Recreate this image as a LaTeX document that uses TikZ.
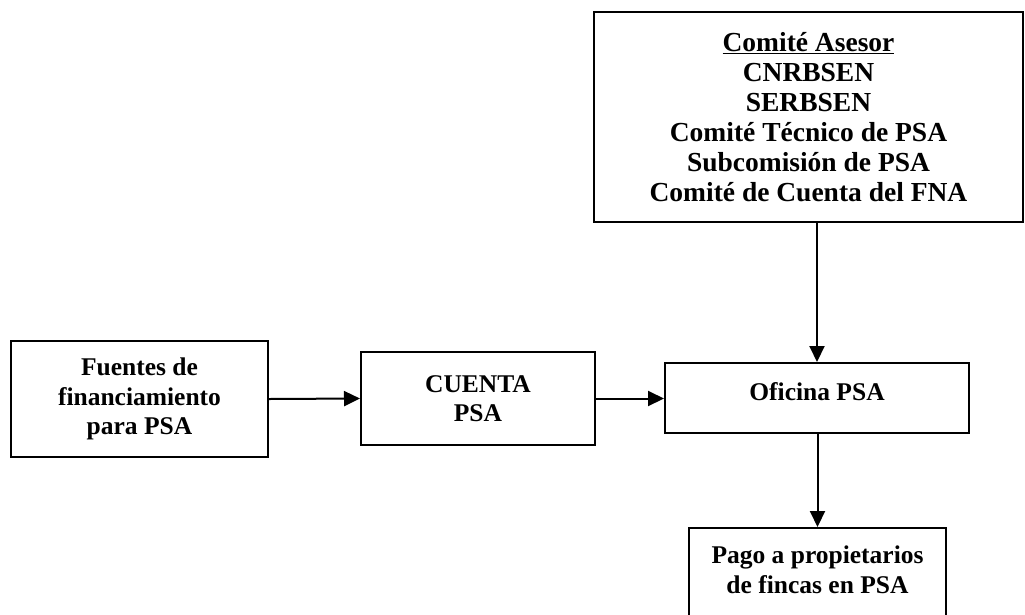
\documentclass[tikz,border=0pt]{standalone}
\usepackage{fontspec}
\setmainfont{Liberation Serif}
\usetikzlibrary{arrows.meta}
\tikzset{
  box/.style={draw, line width=2pt, inner sep=0pt, align=center,
    font=\fontsize{25.5}{29.5}\selectfont\bfseries},
  txt/.style={inner sep=0pt, align=center, font=\fontsize{25.5}{29.5}\selectfont\bfseries},
  arr/.style={line width=2pt, -{Triangle[length=16pt,width=15pt]}}
}
\begin{document}
\begin{tikzpicture}[x=1pt,y=-1pt]
\clip (0,0) rectangle (1025,614);
\fill[white] (0,0) rectangle (1025,614);
\node[box, minimum width=429pt, minimum height=210pt,
  font=\fontsize{27.5}{30}\selectfont\bfseries] (comite) at (808.5,117)
  {\underline{Comité Asesor}\\CNRBSEN\\SERBSEN\\Comité Técnico de PSA\\Subcomisión de PSA\\Comité de Cuenta del FNA};
\node[box, minimum width=257pt, minimum height=116pt] (fuentes) at (139.5,399)
  {Fuentes de\\financiamiento\\para PSA};
\node[box, minimum width=234pt, minimum height=93pt] (cuenta) at (478,398.5)
  {CUENTA\\PSA};
\node[box, minimum width=304pt, minimum height=70pt] (oficina) at (817,398) {};
\node[txt] (oficinatxt) at (817,392) {Oficina PSA};
\node[box, minimum width=257pt, minimum height=110pt, anchor=north] (pago) at (817.5,527) {};
\node[txt] (pagotxt) at (817.5,570) {Pago a propietarios\\de fincas en PSA};
\draw[arr] (fuentes.east) -- (cuenta.west);
\draw[arr] (cuenta.east) -- (cuenta.east -| oficina.west);
\draw[arr] (comite.south -| oficina.north) -- (oficina.north);
\draw[arr] (pago.north |- oficina.south) -- (pago.north);
\end{tikzpicture}
\end{document}
